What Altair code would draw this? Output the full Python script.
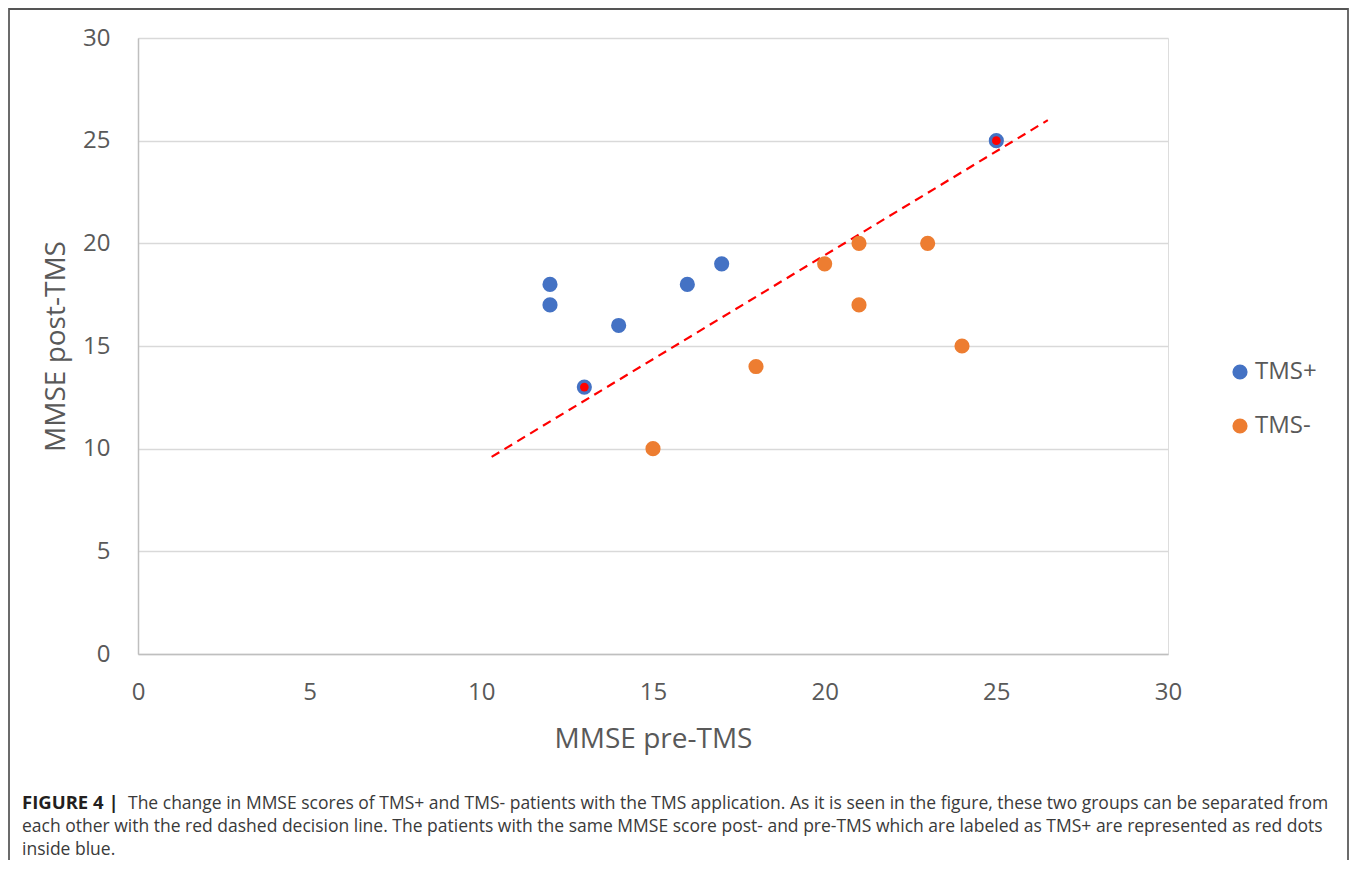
import altair as alt
import pandas as pd

# ---- data ----
tms_plus_pre = [12, 12, 13, 14, 16, 17, 25]
tms_plus_post = [18, 17, 13, 16, 18, 19, 25]
tms_minus_pre = [15, 18, 20, 21, 21, 23, 24]
tms_minus_post = [10, 14, 19, 20, 17, 20, 15]
same_pre = [13, 25]
same_post = [13, 25]
line_pre = [10.3, 26.5]
line_post = [9.6, 26.0]
groups = ["TMS+", "TMS-"]
axis_ticks = [0, 5, 10, 15, 20, 25, 30]

caption_bold = "FIGURE 4 |"
caption_lines = [
    "The change in MMSE scores of TMS+ and TMS- patients with the TMS application. As it is seen in the figure, these two groups can be separated from",
    "each other with the red dashed decision line. The patients with the same MMSE score post- and pre-TMS which are labeled as TMS+ are represented as red dots",
    "inside blue.",
]

pts = pd.DataFrame({
    "pre": tms_plus_pre + tms_minus_pre,
    "post": tms_plus_post + tms_minus_post,
    "group": [groups[0]] * len(tms_plus_pre) + [groups[1]] * len(tms_minus_pre),
})
same = pd.DataFrame({"pre": same_pre, "post": same_post})
line_df = pd.DataFrame({"pre": line_pre, "post": line_post})

W, H = 1030, 616
PL, PT, PR, PB = 130, 30, 182, 206

xscale = alt.Scale(domain=[0, 30], nice=False, zero=True)
yscale = alt.Scale(domain=[0, 30], nice=False, zero=True)

x_axis = alt.Axis(values=axis_ticks, title="MMSE pre-TMS", grid=False, ticks=False,
                  domain=True, domainColor="#bfbfbf", domainWidth=1.5, labelFlush=False,
                  labelFont="Open Sans", labelFontSize=24, labelColor="#595959",
                  labelPadding=26, titleFont="Open Sans", titleFontSize=28,
                  titleFontWeight="normal", titleColor="#595959", titlePadding=21)
y_axis = alt.Axis(values=axis_ticks, title="MMSE post-TMS", grid=True, gridColor="#d9d9d9",
                  gridWidth=1.5, ticks=False, domain=True, domainColor="#bfbfbf", domainWidth=1.5,
                  labelFlush=False,
                  labelFont="Open Sans", labelFontSize=24, labelColor="#595959",
                  labelPadding=28, titleFont="Open Sans", titleFontSize=28,
                  titleFontWeight="normal", titleColor="#595959", titlePadding=12)

points = alt.Chart(pts).mark_circle(size=230, opacity=1).encode(
    x=alt.X("pre:Q", scale=xscale, axis=x_axis),
    y=alt.Y("post:Q", scale=yscale, axis=y_axis),
    color=alt.Color("group:N", scale=alt.Scale(domain=groups, range=["#4472C4", "#ED7D31"]),
                    legend=alt.Legend(title=None, orient="none", legendX=1090, legendY=322,
                                      symbolType="circle", symbolSize=230, symbolOpacity=1,
                                      labelFont="Open Sans", labelFontSize=24, labelColor="#595959",
                                      labelOffset=3, rowPadding=30, padding=0)),
)

red = alt.Chart(same).mark_circle(size=75, color="#FF0000", opacity=1).encode(
    x=alt.X("pre:Q", scale=xscale),
    y=alt.Y("post:Q", scale=yscale),
)

dline = alt.Chart(line_df).mark_line(color="#FF0000", strokeWidth=2.2, strokeDash=[9, 6]).encode(
    x=alt.X("pre:Q", scale=xscale),
    y=alt.Y("post:Q", scale=yscale),
)

# outer frame (decorative)
frame_df = pd.DataFrame({"k": [0]})
frame_left = alt.Chart(frame_df).mark_rule(color="#6b6b6b", strokeWidth=2).encode(
    x=alt.value(-129), y=alt.value(-30), y2=alt.value(H + PB))
frame_right = alt.Chart(frame_df).mark_rule(color="#6b6b6b", strokeWidth=2).encode(
    x=alt.value(W + PR - 2), y=alt.value(-30), y2=alt.value(H + PB))
frame_top = alt.Chart(frame_df).mark_rule(color="#555555", strokeWidth=2).encode(
    x=alt.value(-129), x2=alt.value(W + PR - 2), y=alt.value(-29))

cap_bold = alt.Chart(pd.DataFrame({"t": [caption_bold]})).mark_text(
    align="left", baseline="alphabetic", font="Open Sans", fontSize=18.5, fontWeight="bold",
    color="#231f20").encode(text="t:N", x=alt.value(-116), y=alt.value(771))

cap_df = pd.DataFrame({
    "t": caption_lines,
    "xx": [-10, -116, -116],
    "yy": [771, 794, 817],
})
cap_text = alt.Chart(cap_df).mark_text(
    align="left", baseline="alphabetic", font="Open Sans", fontSize=17.5,
    color="#3a3a3a").encode(
    text="t:N",
    x=alt.X("xx:Q", scale=None),
    y=alt.Y("yy:Q", scale=None),
)

chart = alt.layer(frame_left, frame_right, frame_top, dline, points, red, cap_bold, cap_text).properties(
    width=W, height=H,
    autosize=alt.AutoSizeParams(type="none"),
    padding={"left": PL, "top": PT, "right": PR, "bottom": PB},
).configure_view(stroke=None).configure(background="white")

chart.save("out.html", embed_options={"renderer": "svg", "actions": False})
